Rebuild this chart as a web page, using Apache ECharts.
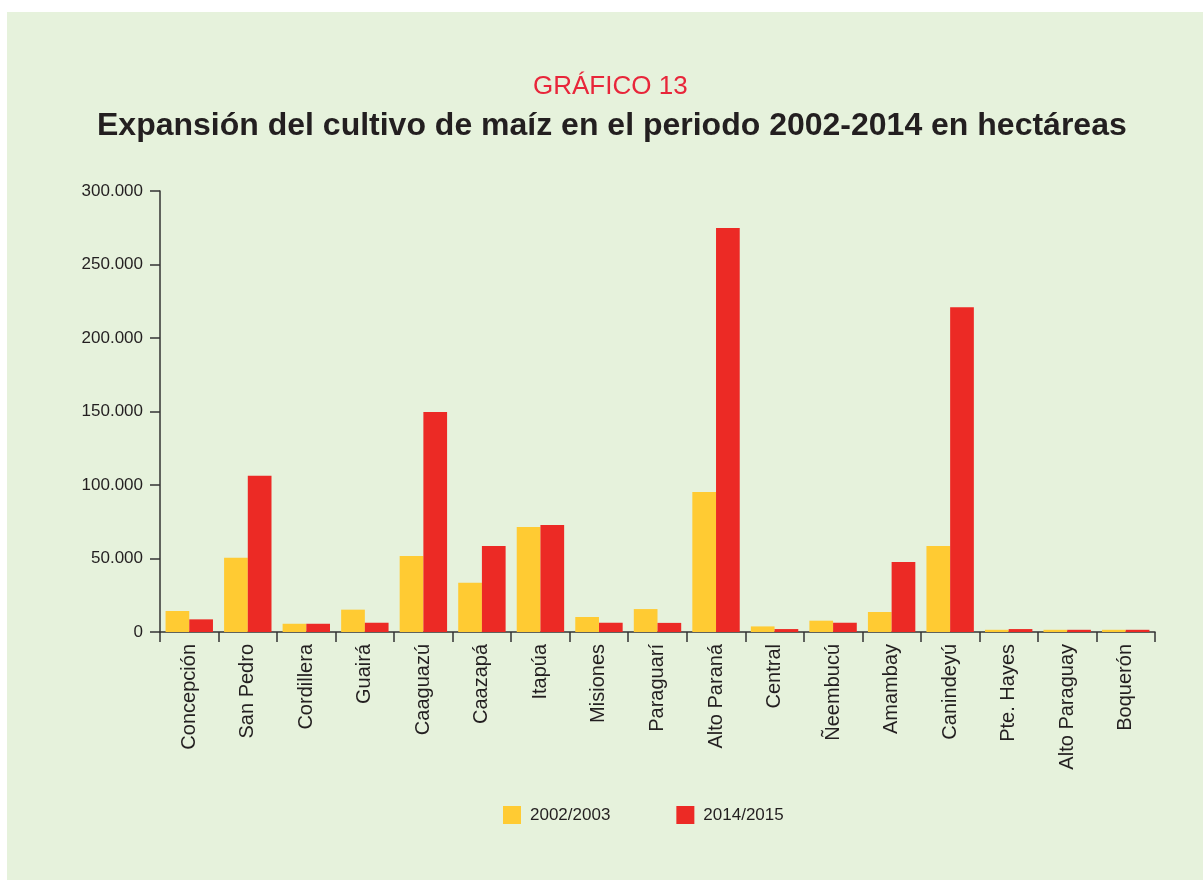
<!DOCTYPE html>
<html><head><meta charset="utf-8">
<script src="https://cdn.jsdelivr.net/npm/echarts@6/dist/echarts.min.js"></script>
<style>html,body{margin:0;padding:0;background:#fff}#c{width:1203px;height:880px}</style>
</head><body><div id="c"></div>
<script>
const categories = ['Concepción','San Pedro','Cordillera','Guairá','Caaguazú','Caazapá','Itapúa','Misiones','Paraguarí','Alto Paraná','Central','Ñeembucú','Amambay','Canindeyú','Pte. Hayes','Alto Paraguay','Boquerón'];
const series2002 = [14300, 50500, 5600, 15200, 51700, 33500, 71400, 10200, 15600, 95200, 3800, 7700, 13600, 58500, 1500, 1500, 1500];
const series2014 = [8600, 106300, 5600, 6300, 149700, 58500, 72800, 6300, 6200, 274800, 2000, 6300, 47600, 221000, 2000, 1500, 1500];
const seriesNames = ['2002/2003','2014/2015'];
const yTicks = {min:0, max:300000, interval:50000};

const chart = echarts.init(document.getElementById('c'), null, {renderer:'canvas'});
const FONT = '"Liberation Sans",Arial,sans-serif';
chart.setOption({
  backgroundColor:'#ffffff',
  textStyle:{fontFamily:FONT},
  graphic:[{type:'rect', z:-10, shape:{x:7,y:12,width:1196,height:868}, style:{fill:'#e6f2dc'}}],
  title:[
    {text:'GRÁFICO 13', left:528, top:69, textStyle:{fontFamily:FONT, fontSize:26, fontWeight:'normal', color:'#e8263a'}},
    {text:'Expansión del cultivo de maíz en el periodo 2002-2014 en hectáreas', left:92, top:105, textStyle:{fontFamily:FONT, fontSize:32, fontWeight:'bold', color:'#231f20'}}
  ],
  legend:{top:801, left:498, itemWidth:18, itemHeight:18, itemGap:66, icon:'rect',
    textStyle:{fontFamily:FONT, fontSize:17, color:'#231f20', padding:[0,0,0,4]}, data:seriesNames},
  grid:{left:160, right:48, top:191, bottom:248, containLabel:false},
  xAxis:{type:'category', data:categories,
    axisLine:{lineStyle:{color:'#333', width:1.5}},
    axisTick:{show:true, length:10, alignWithLabel:false, lineStyle:{color:'#333', width:1.5}},
    axisLabel:{rotate:90, margin:12, fontSize:20, color:'#231f20', fontFamily:FONT, interval:0}},
  yAxis:{type:'value', min:yTicks.min, max:yTicks.max, interval:yTicks.interval,
    axisLine:{show:true, lineStyle:{color:'#333', width:1.5}},
    axisTick:{show:true, length:10, lineStyle:{color:'#333', width:1.5}},
    splitLine:{show:false},
    axisLabel:{margin:17, fontSize:17, color:'#231f20', fontFamily:FONT,
      formatter:v => v===0 ? '0' : v.toLocaleString('de-DE')}},
  series:[
    {name:seriesNames[0], type:'bar', data:series2002, barGap:'0%', barCategoryGap:'19%', itemStyle:{color:'#ffcb33'}},
    {name:seriesNames[1], type:'bar', data:series2014, itemStyle:{color:'#ec2a25'}}
  ]
});
</script></body></html>
